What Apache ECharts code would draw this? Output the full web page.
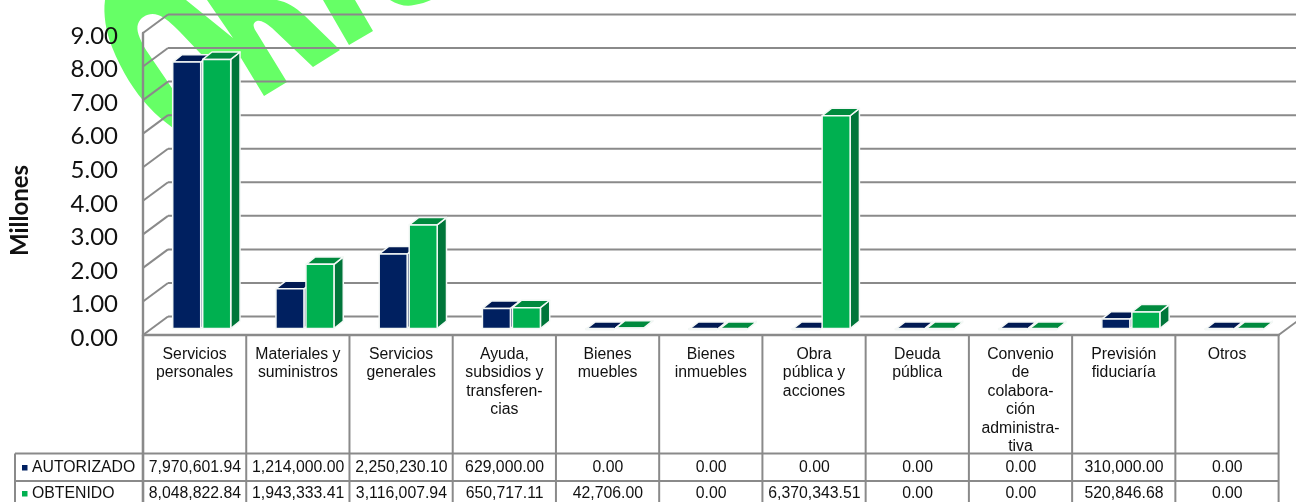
<!DOCTYPE html>
<html><head><meta charset="utf-8">
<style>html,body{margin:0;padding:0;background:#fff}#c{width:1296px;height:502px}</style>
<script src="https://cdn.jsdelivr.net/npm/echarts@6/dist/echarts.min.js"></script>
</head><body><div id="c"></div>
<script>
const categories = ["Servicios\npersonales","Materiales y\nsuministros","Servicios\ngenerales","Ayuda,\nsubsidios y\ntransferen-\ncias","Bienes\nmuebles","Bienes\ninmuebles","Obra\npública y\nacciones","Deuda\npública","Convenio\nde\ncolabora-\nción\nadministra-\ntiva","Previsión\nfiduciaría","Otros"];
const autorizado = [7970601.94,1214000.00,2250230.10,629000.00,0,0,0,0,0,310000.00,0];
const obtenido = [8048822.84,1943333.41,3116007.94,650717.11,42706.00,0,6370343.51,0,0,520846.68,0];
const yTicks = [0,1000000,2000000,3000000,4000000,5000000,6000000,7000000,8000000,9000000];
const seriesNames = ["AUTORIZADO","OBTENIDO"];

const GRAY='#8a8a8a', TXT='#111';
const DEPTH_X=25, DEPTH_Y=18.5;
const BAR_DX=7, BAR_DY=6.5, SIDE_X=9.3, SIDE_Y=7.4, BAR_W=28;
const HEADER_BOTTOM=453.5, ROW_LINE=481, TABLE_LEFT=15, ROW_Y=[468,494];
const tableFont='15.8px "Liberation Sans", Arial, sans-serif';
const fmt=v=>v.toLocaleString('en-US',{minimumFractionDigits:2,maximumFractionDigits:2});

function barRenderer(offset,front,top,side){
  return function(params,api){
    const p=api.coord([api.value(0),api.value(1)]);
    const z=api.coord([api.value(0),0]);
    const x=p[0]+offset+BAR_DX, x2=x+BAR_W;
    const yT=p[1]-BAR_DY+1, yB=z[1]-BAR_DY;
    const w={stroke:'#f4f8f6',lineWidth:1.5,lineJoin:'round'};
    return {type:'group',children:[
      {type:'polygon',shape:{points:[[x2,yT],[x2+SIDE_X,yT-SIDE_Y],[x2+SIDE_X,yB-SIDE_Y],[x2,yB]]},style:Object.assign({fill:side},w)},
      {type:'polygon',shape:{points:[[x,yT],[x+SIDE_X,yT-SIDE_Y],[x2+SIDE_X,yT-SIDE_Y],[x2,yT]]},style:Object.assign({fill:top},w)},
      {type:'rect',shape:{x:x,y:yT,width:BAR_W,height:yB-yT},style:Object.assign({fill:front},w)}
    ]};
  };
}
function line(x1,y1,x2,y2,lw){return {type:'line',shape:{x1,y1,x2,y2},style:{stroke:GRAY,lineWidth:lw||2}};}
function wallRenderer(params,api){
  const cs=params.coordSys, y=api.coord([0,api.value(1)])[1];
  const c=[line(cs.x,y,cs.x+DEPTH_X,y-DEPTH_Y,2),line(cs.x+DEPTH_X,y-DEPTH_Y,1296,y-DEPTH_Y,2)];
  if(api.value(1)===0)c.push(line(cs.x+cs.width,y,cs.x+cs.width+DEPTH_X,y-DEPTH_Y,2));
  return {type:'group',children:c};
}
function tableRenderer(params,api){
  const i=api.value(0), cs=params.coordSys, c=api.coord([i,0]), bw=api.size([1,0])[0];
  const L=c[0]-bw/2, R=c[0]+bw/2, kids=[];
  kids.push(line(L,cs.y+cs.height,L,502,i===0?2.6:2));
  kids.push(line(L,HEADER_BOTTOM,R,HEADER_BOTTOM,2),line(L,ROW_LINE,R,ROW_LINE,2));
  if(i===categories.length-1)kids.push(line(R,cs.y+cs.height,R,502,2));
  [api.value(1),api.value(2)].forEach((v,r)=>kids.push({type:'text',style:{text:fmt(v),x:c[0]+0.3,y:ROW_Y[r],align:'center',verticalAlign:'middle',font:tableFont,fill:TXT}}));
  if(i===0){
    kids.push(line(TABLE_LEFT,HEADER_BOTTOM,L,HEADER_BOTTOM,2),line(TABLE_LEFT,ROW_LINE,L,ROW_LINE,2),line(TABLE_LEFT,HEADER_BOTTOM,TABLE_LEFT,502,2));
    ['#002060','#00B050'].forEach((col,r)=>{
      kids.push({type:'rect',shape:{x:22,y:ROW_Y[r]-3,width:5.5,height:5.5},style:{fill:col}});
      kids.push({type:'text',style:{text:seriesNames[r],x:32,y:ROW_Y[r],align:'left',verticalAlign:'middle',font:tableFont,fill:TXT}});
    });
  }
  return {type:'group',children:kids};
}
const watermark="M105 0 C103 14 106 32 112 47 C122 72 135 92 148 106 C156 115 165 122 173 128 L190 130 L176 94 L146 50 C139 38 136 30 138 24 C141 16 150 12 158 15 C165 17 172 24 180 32 L200 53 L220 70 L241 58 L264 96 L287 82 L257 33 C253 27 252 23 257 21 C261 20 266 23 272 28 L313 67 L340 50 L304 15 C295 7 287 2 277 0 L207 0 L233 38 L186 0 Z M323 0 L349 45 L373 31 L355 0 Z M390 0 C398 5 407 7 414 5 C421 4 426 2 431 0 Z";

const chart=echarts.init(document.getElementById('c'),null,{renderer:'canvas'});
chart.setOption({
  animation:false,backgroundColor:'#fff',
  grid:{left:143,top:33,width:1135.6,height:302,containLabel:false,outerBoundsMode:'none'},
  xAxis:{type:'category',data:categories,boundaryGap:true,
    axisLine:{show:true,lineStyle:{color:GRAY,width:2.4}},axisTick:{show:false},
    axisLabel:{interval:0,margin:10,color:TXT,fontFamily:'"Liberation Sans", Arial, sans-serif',fontSize:15.8,lineHeight:18.5,verticalAlign:'top'}},
  yAxis:{type:'value',min:0,max:9000000,interval:1000000,name:'Millones',nameLocation:'middle',nameRotate:90,nameGap:111,
    nameTextStyle:{fontFamily:'Lato',fontWeight:'bold',fontSize:24,color:'#111',padding:[0,53,0,0]},
    axisLine:{show:true,lineStyle:{color:GRAY,width:2.4}},axisTick:{show:false},splitLine:{show:false},
    axisLabel:{margin:25,color:'#111',fontFamily:'Lato',fontSize:24,verticalAlign:'top',lineHeight:6,formatter:v=>(v/1e6).toFixed(2)}},
  series:[
    {type:'custom',name:'marca',z:0,silent:true,clip:false,renderItem:()=>({type:'path',shape:{pathData:watermark},style:{fill:'#66FF66'}}),data:[[0,0]],encode:{x:0,y:1}},
    {type:'custom',name:'pared',z:1,silent:true,clip:false,renderItem:wallRenderer,data:yTicks.map(v=>[0,v]),encode:{x:0,y:1}},
    {type:'custom',name:seriesNames[0],z:3,silent:true,clip:false,renderItem:barRenderer(-28.9,'#002060','#001A52','#001A52'),data:autorizado.map((v,i)=>[i,v]),encode:{x:0,y:1}},
    {type:'custom',name:seriesNames[1],z:4,silent:true,clip:false,renderItem:barRenderer(1.1,'#00B050','#008A3E','#00763A'),data:obtenido.map((v,i)=>[i,v]),encode:{x:0,y:1}},
    {type:'custom',name:'tabla',z:5,silent:true,clip:false,renderItem:tableRenderer,data:categories.map((c,i)=>[i,autorizado[i],obtenido[i]]),encode:{x:0}}
  ]
});
</script></body></html>
